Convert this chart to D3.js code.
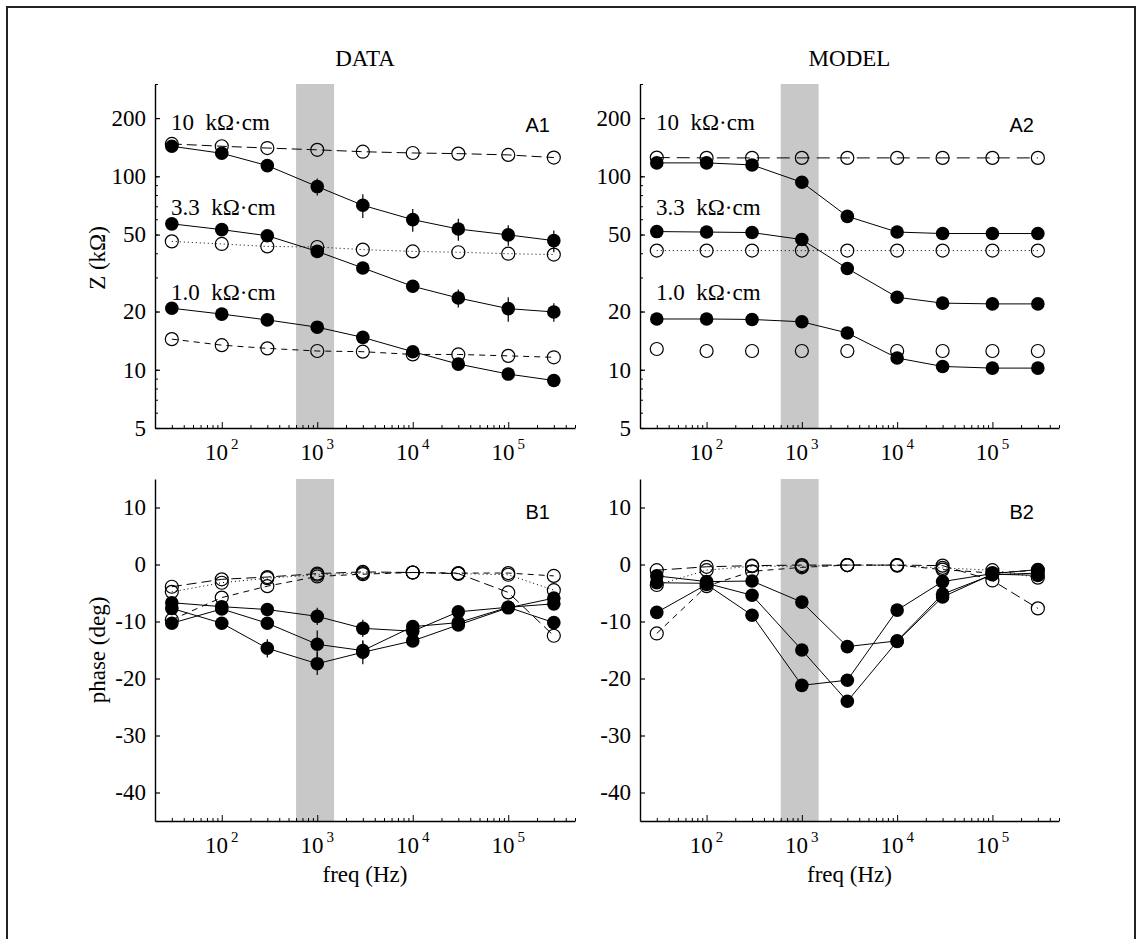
<html>
<head>
<script src="https://d3js.org/d3.v7.min.js"></script>
<meta charset="UTF-8">
<style>
  body { margin: 0; background: #fff; }
  text { font-family: "Liberation Serif", "Times New Roman", serif; fill: #000; }
</style>
</head>
<body>
<svg id="fig" width="1140" height="939"></svg>
<script>
// frequencies (Hz) shared by every series
var freqs = [30, 100, 300, 1000, 3000, 10000, 30000, 100000, 300000];

// axis ticks
var zTicks = [5, 10, 20, 50, 100, 200];
var phaseTicks = [-40, -30, -20, -10, 0, 10];
var freqTicks = [100, 1000, 10000, 100000];
var freqExp = ["2", "3", "4", "5"];
var bandHz = [600, 1500];
var rhoLabels = ["10  kΩ·cm", "3.3  kΩ·cm", "1.0  kΩ·cm"];

// A1: measured impedance (kOhm)
var dataZ10 = [143, 131.5, 113.6, 88.5, 70.8, 59.7, 53.4, 49.8, 46.5];
var dataZ10err = [0, 0, 0, 9, 10, 8, 7, 6, 6];
var dataZ33 = [56.8, 53, 49.3, 40.9, 33.6, 27, 23.5, 20.7, 19.9];
var dataZ33err = [0, 0, 0, 0, 0, 2, 2.5, 3, 2.2];
var dataZ1 = [20.8, 19.4, 18.1, 16.6, 14.7, 12.4, 10.7, 9.5, 8.8];
var dataZ10o = [147, 143, 140, 137, 134, 132, 131, 129, 125];
var dataZ33o = [46.1, 44.7, 43.4, 43.1, 41.8, 40.9, 40.5, 39.8, 39.4];
var dataZ1o = [14.4, 13.4, 12.9, 12.5, 12.4, 12.0, 12.0, 11.8, 11.6];

// A2: model impedance (kOhm)
var modelZ10 = [117.3, 117.3, 114.5, 93.1, 62.1, 51.5, 50.6, 50.6, 50.6];
var modelZ33 = [51.8, 51.5, 51.2, 47.1, 33.4, 23.7, 22.1, 21.9, 21.9];
var modelZ1 = [18.3, 18.3, 18.2, 17.7, 15.5, 11.5, 10.4, 10.2, 10.2];
var modelZ10o = [125, 124.5, 124.5, 124.5, 124.5, 124.5, 124.5, 124.5, 124.5];
var modelZ33o = [41.3, 41.3, 41.3, 41.3, 41.3, 41.3, 41.3, 41.3, 41.3];
var modelZ1o = [12.8, 12.5, 12.5, 12.5, 12.5, 12.5, 12.5, 12.5, 12.5];

// B1: measured phase (deg)
var dataP10 = [-6.7, -7.4, -7.9, -9.1, -11.2, -11.7, -8.3, -7.5, -6.9];
var dataP10err = [0, 0, 0, 1.5, 1.5, 0, 0, 0, 0];
var dataP33 = [-10.3, -7.8, -10.3, -14.0, -15.1, -10.9, -10.2, -7.5, -10.2];
var dataP33err = [0, 0, 0.8, 2.4, 1.6, 0, 0, 0, 0];
var dataP1 = [-7.7, -10.3, -14.7, -17.4, -15.4, -13.4, -10.6, -7.6, -5.9];
var dataP1err = [0, 0, 1.6, 2, 2.1, 1, 0, 0, 0];
var dataP10o = [-3.9, -2.6, -2.2, -1.6, -1.3, -1.4, -1.6, -4.9, -12.5];
var dataP33o = [-4.8, -3.2, -2.4, -1.8, -1.5, -1.4, -1.6, -1.8, -4.5];
var dataP1o = [-9.7, -5.8, -3.8, -2.1, -1.7, -1.4, -1.5, -1.5, -2.0];

// B2: model phase (deg)
var modelP10 = [-2.0, -3.0, -2.9, -6.6, -14.4, -13.4, -5.2, -1.8, -1.5];
var modelP33 = [-3.2, -3.3, -5.4, -15.0, -24.0, -13.5, -5.7, -1.7, -1.9];
var modelP1 = [-8.4, -3.5, -8.9, -21.2, -20.3, -8.0, -3.0, -1.6, -0.9];
var modelP10o = [-1.0, -0.4, -0.2, -0.1, -0.1, -0.1, -0.2, -2.8, -7.7];
var modelP33o = [-3.6, -1.0, -0.3, -0.3, -0.1, -0.2, -0.6, -1.0, -2.3];
var modelP1o = [-12.1, -3.8, -1.2, -0.5, -0.1, -0.1, -0.9, -1.5, -1.0];

var svg = d3.select("#fig");

// outer frame
svg.append("rect")
  .attr("x", 7).attr("y", 7).attr("width", 1128).attr("height", 1000)
  .attr("fill", "none").attr("stroke", "#222").attr("stroke-width", 2);

var LONG = "10,5", DOT = "1,3", DASH = "6,5";
var FS = "23px";

function drawPanel(cfg) {
  var x = d3.scaleLog().domain([20, 5e5]).range([cfg.x0, cfg.x1]);
  var y = cfg.y;
  var g = svg.append("g");

  // shaded frequency band
  g.append("rect")
    .attr("x", x(bandHz[0])).attr("width", x(bandHz[1]) - x(bandHz[0]))
    .attr("y", cfg.y0).attr("height", cfg.y1 - cfg.y0)
    .attr("fill", "#c8c8c8");

  // y axis
  if (cfg.yMinor) {
    var ym = g.append("g").attr("transform", "translate(" + cfg.x0 + ",0)")
      .call(d3.axisLeft(y).tickValues(y.ticks()).tickSize(-3).tickFormat(""));
    ym.select(".domain").remove();
    ym.selectAll("line").attr("stroke-width", 1);
  }
  var ya = g.append("g").attr("transform", "translate(" + cfg.x0 + ",0)")
    .call(d3.axisLeft(y).tickValues(cfg.yTicks).tickSizeInner(-5).tickSizeOuter(0)
      .tickPadding(9).tickFormat(function(d) { return d; }));
  ya.attr("font-family", null).attr("font-size", null);
  ya.selectAll("text").style("font-size", FS);
  ya.select(".domain").attr("stroke-width", 1.4);
  ya.selectAll("line").attr("stroke-width", 1.2);

  // x axis (minor + major ticks pointing inward)
  var xm = g.append("g").attr("transform", "translate(0," + cfg.y1 + ")")
    .call(d3.axisBottom(x).tickValues(x.ticks().filter(function(d) { return freqTicks.indexOf(d) < 0; }))
      .tickSize(-3).tickFormat(""));
  xm.select(".domain").remove();
  var xa = g.append("g").attr("transform", "translate(0," + cfg.y1 + ")")
    .call(d3.axisBottom(x).tickValues(freqTicks).tickSizeInner(-6).tickSizeOuter(0).tickFormat(""));
  xa.select(".domain").attr("stroke-width", 1.4);

  freqTicks.forEach(function(f, i) {
    var t = g.append("text").attr("x", x(f)).attr("y", cfg.y1 + 32)
      .attr("text-anchor", "middle").style("font-size", FS).text("10");
    t.append("tspan").attr("dx", 3).attr("dy", -11).style("font-size", "15px").text(freqExp[i]);
  });

  // lines
  var line = d3.line().x(function(d, i) { return x(freqs[i]); }).y(function(d) { return y(d); });
  cfg.series.forEach(function(s) {
    if (s.dash === "none") return;
    g.append("path").datum(s.v).attr("d", line)
      .attr("fill", "none").attr("stroke", "#000").attr("stroke-width", 1)
      .attr("stroke-dasharray", s.dash === "solid" ? null : s.dash);
  });

  // error bars
  cfg.series.forEach(function(s) {
    if (!s.err) return;
    s.v.forEach(function(d, i) {
      if (!(s.err[i] > 0)) return;
      g.append("line")
        .attr("x1", x(freqs[i])).attr("x2", x(freqs[i]))
        .attr("y1", y(d + s.err[i])).attr("y2", y(d - s.err[i]))
        .attr("stroke", "#000").attr("stroke-width", 1.2);
    });
  });

  // markers: open first, filled on top
  cfg.series.filter(function(s) { return !s.filled; }).forEach(function(s) {
    g.selectAll(null).data(s.v).enter().append("circle")
      .attr("cx", function(d, i) { return x(freqs[i]); })
      .attr("cy", function(d) { return y(d); })
      .attr("r", 6.5).attr("fill", "none").attr("stroke", "#000").attr("stroke-width", 1.2);
  });
  cfg.series.filter(function(s) { return s.filled; }).forEach(function(s) {
    g.selectAll(null).data(s.v).enter().append("circle")
      .attr("cx", function(d, i) { return x(freqs[i]); })
      .attr("cy", function(d) { return y(d); })
      .attr("r", 6.8).attr("fill", "#000");
  });

  // panel tag
  g.append("text").attr("x", cfg.x1 - 25).attr("y", cfg.y0 + cfg.tagDy)
    .attr("text-anchor", "end")
    .style("font-family", "'Liberation Sans', Arial, sans-serif").style("font-size", "20px")
    .text(cfg.tag);

  if (cfg.rhoY) {
    rhoLabels.forEach(function(lab, i) {
      g.append("text").attr("x", cfg.x0 + 16).attr("y", y(cfg.rhoY[i]))
        .style("font-size", FS).style("white-space", "pre").text(lab);
    });
  }
  return x;
}

function yZ() { return d3.scaleLog().domain([5, 300]).range([428, 84]); }
function yP() { return d3.scaleLinear().domain([-45, 15]).range([821, 479]); }

var left = { x0: 155, x1: 575 }, right = { x0: 640, x1: 1059 };

drawPanel({ x0: left.x0, x1: left.x1, y0: 84, y1: 428, y: yZ(), yTicks: zTicks, yMinor: true,
  tag: "A1", tagDy: 48, rhoY: [173, 63.4, 22.9],
  series: [
    { v: dataZ10o, filled: false, dash: LONG },
    { v: dataZ33o, filled: false, dash: DOT },
    { v: dataZ1o, filled: false, dash: DASH },
    { v: dataZ10, filled: true, dash: "solid", err: dataZ10err },
    { v: dataZ33, filled: true, dash: "solid", err: dataZ33err },
    { v: dataZ1, filled: true, dash: "solid" }
  ] });

drawPanel({ x0: right.x0, x1: right.x1, y0: 84, y1: 428, y: yZ(), yTicks: zTicks, yMinor: true,
  tag: "A2", tagDy: 48, rhoY: [173, 63.4, 22.9],
  series: [
    { v: modelZ10o, filled: false, dash: "13,7" },
    { v: modelZ33o, filled: false, dash: DOT },
    { v: modelZ1o, filled: false, dash: "none" },
    { v: modelZ10, filled: true, dash: "solid" },
    { v: modelZ33, filled: true, dash: "solid" },
    { v: modelZ1, filled: true, dash: "solid" }
  ] });

drawPanel({ x0: left.x0, x1: left.x1, y0: 479, y1: 821, y: yP(), yTicks: phaseTicks, yMinor: false,
  tag: "B1", tagDy: 40,
  series: [
    { v: dataP10o, filled: false, dash: LONG },
    { v: dataP33o, filled: false, dash: DOT },
    { v: dataP1o, filled: false, dash: DASH },
    { v: dataP10, filled: true, dash: "solid", err: dataP10err },
    { v: dataP33, filled: true, dash: "solid", err: dataP33err },
    { v: dataP1, filled: true, dash: "solid", err: dataP1err }
  ] });

drawPanel({ x0: right.x0, x1: right.x1, y0: 479, y1: 821, y: yP(), yTicks: phaseTicks, yMinor: false,
  tag: "B2", tagDy: 40,
  series: [
    { v: modelP10o, filled: false, dash: LONG },
    { v: modelP33o, filled: false, dash: DOT },
    { v: modelP1o, filled: false, dash: DASH },
    { v: modelP10, filled: true, dash: "solid" },
    { v: modelP33, filled: true, dash: "solid" },
    { v: modelP1, filled: true, dash: "solid" }
  ] });

// titles and axis labels
svg.append("text").attr("x", (left.x0 + left.x1) / 2).attr("y", 66)
  .attr("text-anchor", "middle").style("font-size", FS).text("DATA");
svg.append("text").attr("x", (right.x0 + right.x1) / 2).attr("y", 66)
  .attr("text-anchor", "middle").style("font-size", FS).text("MODEL");
svg.append("text").attr("transform", "translate(105,258) rotate(-90)")
  .attr("text-anchor", "middle").style("font-size", FS).text("Z (kΩ)");
svg.append("text").attr("transform", "translate(105,650) rotate(-90)")
  .attr("text-anchor", "middle").style("font-size", FS).text("phase (deg)");
svg.append("text").attr("x", (left.x0 + left.x1) / 2).attr("y", 882)
  .attr("text-anchor", "middle").style("font-size", FS).text("freq (Hz)");
svg.append("text").attr("x", (right.x0 + right.x1) / 2).attr("y", 882)
  .attr("text-anchor", "middle").style("font-size", FS).text("freq (Hz)");
</script>
</body>
</html>
